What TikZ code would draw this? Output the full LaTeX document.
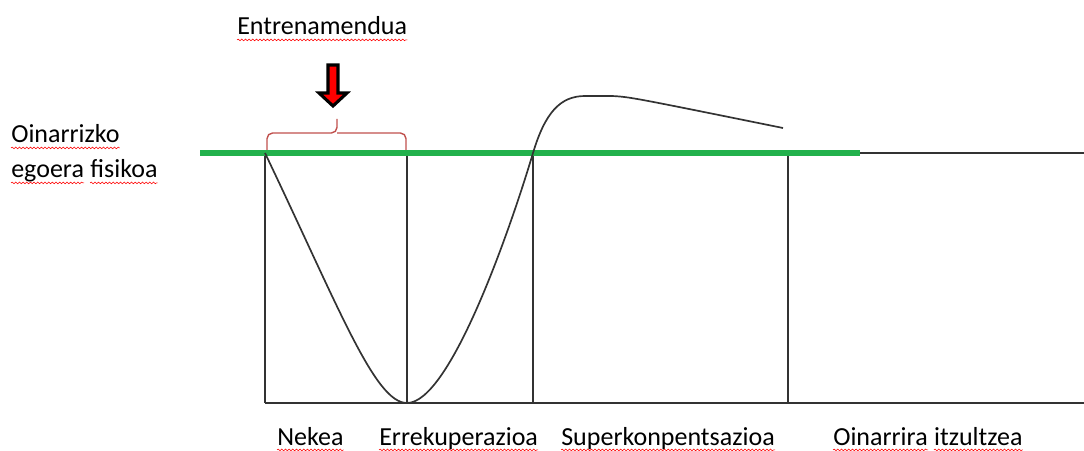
\documentclass[tikz,border=0pt]{standalone}
\usepackage{fontspec}
\setmainfont{Carlito}
\usepackage{xcolor}
\usetikzlibrary{positioning,decorations.pathmorphing}
\definecolor{basegreen}{RGB}{34,177,76}
\definecolor{bracered}{RGB}{192,80,77}

\begin{document}
\begin{tikzpicture}[x=0.025cm,y=-0.025cm,font=\fontsize{18.5}{22}\selectfont,
    axisline/.style={line width=1.2pt,black!80},
    squig/.style={red,line width=0.4pt,decorate,decoration={snake,amplitude=0.6pt,segment length=2.6pt}},
    lbl/.style={anchor=base west,inner sep=0pt,
      append after command={([yshift=-3.5pt]\tikzlastnode.base west) edge[squig] ([yshift=-3.5pt]\tikzlastnode.base east)}}]
  \useasboundingbox (0,0) rectangle (1084,451);
  \coordinate (A) at (265,153); \coordinate (B) at (407,153); \coordinate (C) at (533,153); \coordinate (D) at (788,153);
  \coordinate (Low) at (407,403); \coordinate (Peak) at (585,96); \coordinate (End) at (783,128);
  % phase boxes
  \draw[axisline] (A) -- (1084,153);
  \foreach \c in {A,B,C,D} \draw[axisline] (\c) -- ++(0,250);
  \draw[axisline] (265,403) -- (1084,403);
  \draw[line width=3.6pt,basegreen] (200,153) -- (860,153);
  % fitness curve
  \draw[axisline] (A) .. controls (340,310) and (375,403) .. (Low)
    .. controls (450,403) and (510,230) .. (C)
    .. controls (545,113) and (560,96) .. (Peak) -- (612,96)
    .. controls (630,97) .. (End);
  % brace and arrow
  \draw[bracered,line width=1pt,rounded corners=4pt] (267,150) |- (337,133) -- (337,119);
  \draw[bracered,line width=1pt,rounded corners=4pt] (406,150) |- (337,133);
  \filldraw[fill=red,draw=black,line width=2.2pt,line join=miter]
    (328,65) -- (338,65) -- (338,93) -- (347,93) -- (333,106) -- (319,93) -- (328,93) -- cycle;
  % labels
  \node[lbl] (train) at (237,35) {Entrenamendua};
  \node[lbl] (base1) at (11,143) {Oinarrizko};
  \node[lbl] (base2) at (11,178) {egoera};
  \node[lbl,base right=4.2pt of base2] (base3) {fisikoa};
  \node[lbl] (fatigue) at (277,445) {Nekea};
  \node[lbl] (recov) at (379,445) {Errekuperazioa};
  \node[lbl] (super) at (561,445) {Superkonpentsazioa};
  \node[lbl] (back1) at (833,445) {Oinarrira};
  \node[lbl,base right=4.2pt of back1] (back2) {itzultzea};
\end{tikzpicture}
\end{document}
